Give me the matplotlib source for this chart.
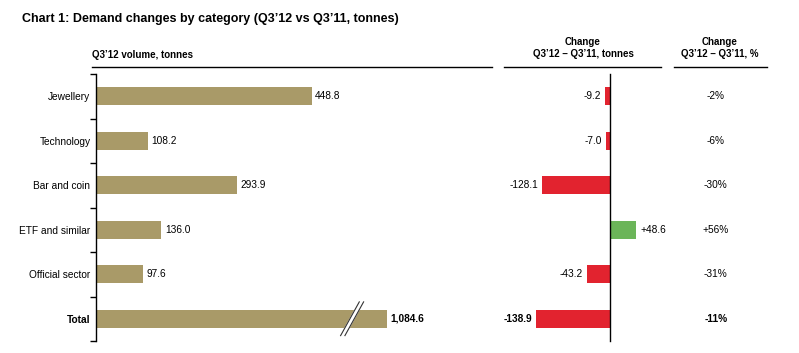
import matplotlib
matplotlib.use('Agg')
import matplotlib.pyplot as plt
from matplotlib.lines import Line2D

plt.rcParams['font.family'] = ['Liberation Sans', 'DejaVu Sans']

categories = ['Jewellery', 'Technology', 'Bar and coin', 'ETF and similar', 'Official sector', 'Total']
volume = [448.8, 108.2, 293.9, 136.0, 97.6, 1084.6]
volume_labels = ['448.8', '108.2', '293.9', '136.0', '97.6', '1,084.6']
change_t = [-9.2, -7.0, -128.1, 48.6, -43.2, -138.9]
change_t_labels = ['-9.2', '-7.0', '-128.1', '+48.6', '-43.2', '-138.9']
change_pct_labels = ['-2%', '-6%', '-30%', '+56%', '-31%', '-11%']

gold = '#A99A68'
red = '#E2232F'
green = '#6BB559'
W, H = 799, 353

def fx(px):
    return px / W

def fy(py):
    return 1 - py / H

fig = plt.figure(figsize=(W / 100, H / 100), dpi=100)

# title + column headers
fig.text(fx(22), fy(19), 'Chart 1: Demand changes by category (Q3\u201912 vs Q3\u201911, tonnes)',
         fontsize=9, fontweight='bold', va='center', ha='left')
fig.text(fx(92), fy(55), 'Q3\u201912 volume, tonnes', fontsize=7, fontweight='bold', va='center')
fig.text(fx(583), fy(48), 'Change\nQ3\u201912 \u2013 Q3\u201911, tonnes', fontsize=7, fontweight='bold',
         va='center', ha='center', linespacing=1.3)
fig.text(fx(720), fy(48), 'Change\nQ3\u201912 \u2013 Q3\u201911, %', fontsize=7, fontweight='bold',
         va='center', ha='center', linespacing=1.3)
for x0, x1 in [(92, 492), (504, 661), (674, 767)]:
    fig.add_artist(Line2D([fx(x0), fx(x1)], [fy(67), fy(67)], color='black', lw=1.0,
                          transform=fig.transFigure))

n = len(categories)
pos = list(range(n))
ax_bottom = fy(341)
ax_h = (341 - 74) / H
fs = 7.3

# ---- left panel: volume
cap = 605  # Total bar is drawn broken at this length
ax1 = fig.add_axes([fx(96), ax_bottom, 394 / W, ax_h])
shown = [min(v, cap) for v in volume]
ax1.barh(pos, shown, height=0.40, color=gold)
ax1.set_xlim(0, 820)
ax1.set_ylim(n - 0.5, -0.5)
for s in ['top', 'right', 'bottom']:
    ax1.spines[s].set_visible(False)
ax1.spines['left'].set_linewidth(1.0)
ax1.set_xticks([])
ax1.set_yticks(pos)
ax1.set_yticklabels(categories, fontsize=fs)
ax1.get_yticklabels()[-1].set_fontweight('bold')
ax1.tick_params(axis='y', which='major', length=0, pad=4)
ax1.set_yticks([p - 0.5 for p in pos] + [n - 0.5], minor=True)
ax1.tick_params(axis='y', which='minor', length=4, width=1.0, direction='out')
for i, (v, lab) in enumerate(zip(shown, volume_labels)):
    ax1.annotate(lab, (v, i), xytext=(2.5, 0), textcoords='offset points', va='center', ha='left',
                 fontsize=fs, fontweight='bold' if i == n - 1 else 'normal')
# break marks on the Total bar
bx = cap - 72
for off, c, lw in [(0, 'white', 3.5), (-4.5, '#333333', 0.8), (4.5, '#333333', 0.8)]:
    ax1.plot([bx - 20 + off, bx + 20 + off], [n - 1 + 0.39, n - 1 - 0.39], color=c, lw=lw,
             solid_capstyle='butt')

# ---- middle panel: change in tonnes
ax2 = fig.add_axes([fx(505), ax_bottom, 156 / W, ax_h])
cols = [green if v > 0 else red for v in change_t]
ax2.barh(pos, change_t, height=0.40, color=cols)
ax2.set_xlim(-198, 96)
ax2.set_ylim(n - 0.5, -0.5)
ax2.axis('off')
ax2.plot([0, 0], [n - 0.5, -0.5], color='black', lw=1.0, clip_on=False)
for i, (v, lab) in enumerate(zip(change_t, change_t_labels)):
    off = 3 if v > 0 else -3
    ax2.annotate(lab, (v, i), xytext=(off, 0), textcoords='offset points', va='center',
                 ha='left' if v > 0 else 'right', fontsize=fs,
                 fontweight='bold' if i == n - 1 else 'normal')

# ---- right panel: change in %
ax3 = fig.add_axes([fx(674), ax_bottom, 93 / W, ax_h])
ax3.set_xlim(0, 1)
ax3.set_ylim(n - 0.5, -0.5)
ax3.axis('off')
for i, lab in enumerate(change_pct_labels):
    ax3.text(0.45, i, lab, va='center', ha='center', fontsize=fs,
             fontweight='bold' if i == n - 1 else 'normal')

fig.savefig('out.png', dpi=100)
